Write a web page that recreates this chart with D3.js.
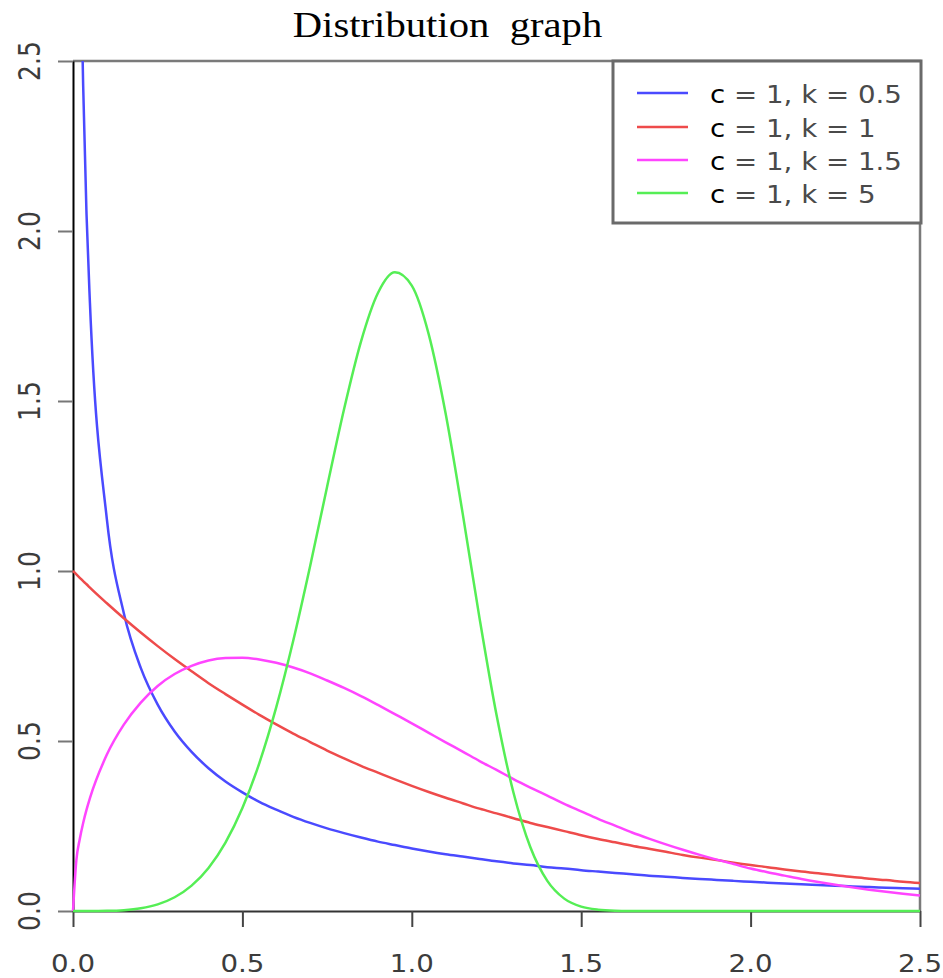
<!DOCTYPE html>
<html>
<head>
<meta charset="utf-8">
<script src="https://cdn.jsdelivr.net/npm/d3@7"></script>
<style>
  html, body { margin: 0; padding: 0; background: #fff; }
  svg { display: block; }
</style>
</head>
<body>
<svg id="chart" width="943" height="978"></svg>
<script>
// Weibull densities (scale c = 1) sampled along x
const xValues = [0, 0.01, 0.02, 0.03, 0.04, 0.05, 0.1, 0.15, 0.2, 0.25, 0.3, 0.35, 0.4, 0.45, 0.5,
  0.55, 0.6, 0.65, 0.7, 0.75, 0.8, 0.85, 0.9, 0.95, 1.0, 1.05, 1.1, 1.15, 1.2, 1.25, 1.3,
  1.35, 1.4, 1.45, 1.5, 1.55, 1.6, 1.65, 1.7, 1.75, 1.8, 1.85, 1.9, 1.95, 2.0, 2.05, 2.1,
  2.15, 2.2, 2.25, 2.3, 2.35, 2.4, 2.45, 2.5];

// k = 0.5 (unbounded at x = 0)
const densK05 = [null, 4.524, 3.069, 2.428, 2.047, 1.788, 1.152, 0.876, 0.715, 0.607, 0.528, 0.468,
  0.420, 0.381, 0.349, 0.321, 0.298, 0.277, 0.259, 0.243, 0.229, 0.216, 0.204, 0.194, 0.184,
  0.175, 0.167, 0.160, 0.153, 0.146, 0.140, 0.135, 0.129, 0.125, 0.120, 0.116, 0.112, 0.108,
  0.104, 0.101, 0.0974, 0.0943, 0.0914, 0.0886, 0.0860, 0.0834, 0.0810, 0.0787, 0.0765,
  0.0744, 0.0724, 0.0704, 0.0686, 0.0668, 0.0651];

// k = 1
const densK1 = [1.000, 0.990, 0.980, 0.970, 0.961, 0.951, 0.905, 0.861, 0.819, 0.779, 0.741, 0.705,
  0.670, 0.638, 0.607, 0.577, 0.549, 0.522, 0.497, 0.472, 0.449, 0.427, 0.407, 0.387, 0.368,
  0.350, 0.333, 0.317, 0.301, 0.287, 0.273, 0.259, 0.247, 0.235, 0.223, 0.212, 0.202, 0.192,
  0.183, 0.174, 0.165, 0.157, 0.150, 0.142, 0.135, 0.129, 0.122, 0.116, 0.111, 0.105, 0.100,
  0.095, 0.091, 0.086, 0.082];

// k = 1.5
const densK15 = [0, 0.150, 0.212, 0.259, 0.298, 0.332, 0.460, 0.548, 0.613, 0.662, 0.697, 0.721,
  0.737, 0.744, 0.745, 0.740, 0.730, 0.716, 0.699, 0.678, 0.656, 0.632, 0.606, 0.579, 0.552,
  0.524, 0.496, 0.469, 0.441, 0.415, 0.388, 0.363, 0.339, 0.315, 0.293, 0.271, 0.251, 0.231,
  0.213, 0.196, 0.180, 0.165, 0.151, 0.138, 0.125, 0.114, 0.104, 0.0940, 0.0851, 0.0770,
  0.0695, 0.0627, 0.0564, 0.0507, 0.0455];

// k = 5
const densK5 = [0, 0, 0, 0, 0, 0, 0.0005, 0.0025, 0.0080, 0.0195, 0.0404, 0.0746, 0.1267, 0.2013,
  0.3029, 0.4351, 0.5995, 0.7948, 1.0148, 1.2478, 1.4758, 1.6747, 1.8175, 1.8786, 1.8394,
  1.6961, 1.4626, 1.1701, 0.8608, 0.5770, 0.3485, 0.1875, 0.0887, 0.0364, 0.0128, 0.0038,
  0.0009, 0.0002, 0, 0, 0, 0, 0, 0, 0, 0, 0, 0, 0, 0, 0, 0, 0, 0, 0];

const seriesLabels = ["= 1, k = 0.5", "= 1, k = 1", "= 1, k = 1.5", "= 1, k = 5"];
const seriesColors = ["#4a4aff", "#ee4b4b", "#ff45ff", "#55ee55"];
const tickValues = [0, 0.5, 1.0, 1.5, 2.0, 2.5];
const titleText = "Distribution\u00a0\u00a0graph";

const series = [densK05, densK1, densK15, densK5];

const svg = d3.select("#chart");
const plotLeft = 73, plotRight = 920, plotTop = 61, plotBottom = 911;
const SX = 1.13; // horizontal glyph stretch

const x = d3.scaleLinear().domain([0, 2.5]).range([plotLeft, plotRight]);
const y = d3.scaleLinear().domain([0, 2.5]).range([plotBottom, plotTop]);
const fmt = d3.format(".1f");

// title
svg.append("text")
  .attr("transform", `translate(447.5,37) scale(${SX},1)`)
  .attr("text-anchor", "middle")
  .attr("font-family", "'Liberation Serif', 'Times New Roman', serif")
  .attr("font-size", 36)
  .attr("fill", "#000")
  .text(titleText);

// plot frame (top and right)
svg.append("path")
  .attr("d", `M${plotLeft},${plotTop}H${plotRight}V${plotBottom}`)
  .attr("fill", "none")
  .attr("stroke", "#7a7a7a")
  .attr("stroke-width", 2.5);

// y axis
const yAxis = svg.append("g")
  .attr("transform", `translate(${plotLeft},0)`)
  .call(d3.axisLeft(y).tickValues(tickValues).tickSize(15).tickSizeOuter(0).tickFormat(""));
yAxis.select(".domain").attr("stroke", "#000").attr("stroke-width", 2);
yAxis.selectAll(".tick line").attr("stroke", "#777").attr("stroke-width", 2);

// x axis
const xAxis = svg.append("g")
  .attr("transform", `translate(0,${plotBottom})`)
  .call(d3.axisBottom(x).tickValues(tickValues).tickSize(16).tickSizeOuter(0).tickFormat(""));
xAxis.select(".domain").attr("stroke", "#333").attr("stroke-width", 2);
xAxis.selectAll(".tick line").attr("stroke", "#444").attr("stroke-width", 2);

// tick labels
svg.append("g").selectAll("text")
  .data(tickValues)
  .join("text")
  .attr("transform", d => `translate(${x(d)},972) scale(${SX},1)`)
  .attr("text-anchor", "middle")
  .attr("font-family", "'DejaVu Sans', sans-serif")
  .attr("font-size", 24.5)
  .attr("fill", "#3c3c3c")
  .text(d => fmt(d));

svg.append("g").selectAll("text")
  .data(tickValues)
  .join("text")
  .attr("transform", d => `translate(40,${y(d)}) rotate(-90) scale(1,${SX + 0.1})`)
  .attr("text-anchor", "middle")
  .attr("font-family", "'DejaVu Sans', sans-serif")
  .attr("font-size", 25)
  .attr("fill", "#3c3c3c")
  .text(d => fmt(d));

// curves
svg.append("clipPath").attr("id", "plotClip")
  .append("rect")
  .attr("x", plotLeft - 2).attr("y", plotTop)
  .attr("width", plotRight - plotLeft + 4).attr("height", plotBottom - plotTop + 3);

const line = d3.line()
  .defined(d => d[1] != null)
  .x(d => x(d[0]))
  .y(d => y(d[1]))
  .curve(d3.curveMonotoneX);

svg.append("g").attr("clip-path", "url(#plotClip)")
  .selectAll("path")
  .data(series)
  .join("path")
  .attr("d", vals => line(xValues.map((xv, i) => [xv, vals[i]])))
  .attr("fill", "none")
  .attr("stroke", (d, i) => seriesColors[i])
  .attr("stroke-width", 2.5)
  .attr("stroke-linejoin", "round");

// legend
const legend = svg.append("g");
legend.append("rect")
  .attr("x", 613).attr("y", 61)
  .attr("width", 308).attr("height", 162)
  .attr("fill", "#fff")
  .attr("stroke", "#6a6a6a")
  .attr("stroke-width", 3);

const rowY = [93, 127, 160, 193];
const rows = legend.selectAll("g.row")
  .data(seriesLabels)
  .join("g")
  .attr("class", "row");

rows.append("line")
  .attr("x1", 637).attr("x2", 688)
  .attr("y1", (d, i) => rowY[i]).attr("y2", (d, i) => rowY[i])
  .attr("stroke", (d, i) => seriesColors[i])
  .attr("stroke-width", 2.5);

const rowText = rows.append("text")
  .attr("transform", (d, i) => `translate(710,${rowY[i] + 10}) scale(${SX},1)`)
  .attr("font-family", "'DejaVu Sans', sans-serif")
  .attr("font-size", 24.5)
  .attr("xml:space", "preserve");
rowText.append("tspan").attr("fill", "#000").text("c ");
rowText.append("tspan").attr("fill", "#4a4a4a").text(d => d);
</script>
</body>
</html>
